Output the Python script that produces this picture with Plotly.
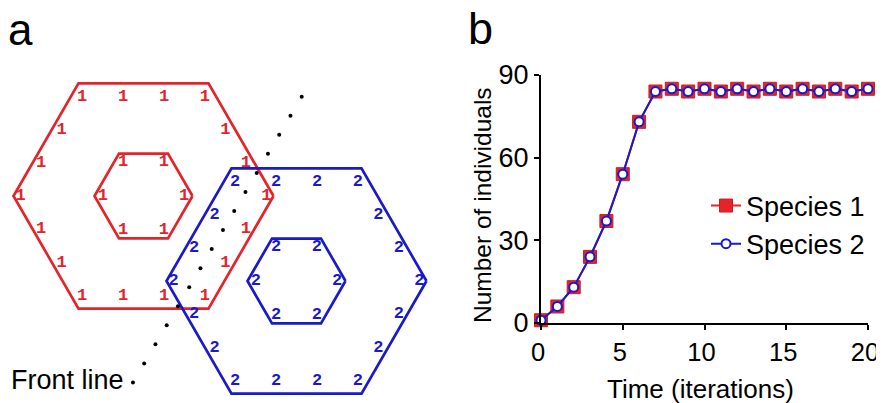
import numpy as np
import plotly.graph_objects as go

# ---------------- Panel b data ----------------
time_iter = list(range(21))
species1 = [1, 6, 13, 24, 37, 54, 73, 84, 85, 84, 85, 84, 85, 84, 85, 84, 85, 84, 85, 84, 85]
species2 = [1, 6, 13, 24, 37, 54, 73, 84, 85, 84, 85, 84, 85, 84, 85, 84, 85, 84, 85, 84, 85]
x_ticks = [0, 5, 10, 15, 20]
y_ticks = [0, 30, 60, 90]
series_names = ["Species 1", "Species 2"]
x_title = "Time (iterations)"
y_title = "Number of individuals"

# ---------------- Panel a data (diagram units) ----------------
hex_labels = ["1", "2"]
hex_center_x = [143.5, 296.5]
hex_center_y = [207.0, 122.0]
outer_radius = 130.0
inner_radius = 49.0
front_line_start = (301.7, 306.3)
front_line_step = (-11.25, -19.05)
front_line_count = 16

RED = "#e3242b"
BLUE = "#1a1ac8"
FONT = "Arial, Liberation Sans, sans-serif"

# page body has an 8px margin: figure starts at (8, 8) of the window
PAD = 8
WIN_W, WIN_H = 884, 403
W, H = WIN_W - PAD, WIN_H - PAD


def fx(px):
    return (px - PAD) / W


def fy(py):
    return (PAD + H - py) / H


fig = go.Figure()


def hex_vertices(cx, cy, r):
    ang = np.deg2rad(np.arange(0, 360, 60))
    return cx + r * np.cos(ang), cy + r * np.sin(ang)


def ring_points(cx, cy, r, per_edge):
    vx, vy = hex_vertices(cx, cy, r)
    px, py = [], []
    for i in range(6):
        j = (i + 1) % 6
        for k in range(per_edge):
            t = k / per_edge
            px.append(vx[i] + t * (vx[j] - vx[i]))
            py.append(vy[i] + t * (vy[j] - vy[i]))
    return np.array(px), np.array(py)


colors = [RED, BLUE]
for lab, cx, cy, col in zip(hex_labels, hex_center_x, hex_center_y, colors):
    for r, per_edge, kx, ky in [(outer_radius, 3, 0.945, 0.885), (inner_radius, 1, 0.83, 0.80)]:
        vx, vy = hex_vertices(cx, cy, r)
        fig.add_trace(go.Scatter(
            x=list(vx) + [vx[0]], y=list(vy) + [vy[0]], mode="lines",
            line=dict(color=col, width=2.7), xaxis="x2", yaxis="y2",
            showlegend=False, hoverinfo="skip"))
        px, py = ring_points(cx, cy, r, per_edge)
        fig.add_trace(go.Scatter(
            x=cx + kx * (px - cx), y=cy + ky * (py - cy), mode="text",
            text=[lab] * len(px),
            textfont=dict(family="Liberation Mono, Courier New, monospace",
                          size=17, color=col, weight="bold"),
            xaxis="x2", yaxis="y2", showlegend=False, hoverinfo="skip"))

# front line dots
idx = np.arange(front_line_count)
fig.add_trace(go.Scatter(
    x=front_line_start[0] + idx * front_line_step[0],
    y=front_line_start[1] + idx * front_line_step[1],
    mode="markers", marker=dict(color="black", size=4),
    xaxis="x2", yaxis="y2", showlegend=False, hoverinfo="skip"))

# ---------------- Panel b traces ----------------
fig.add_trace(go.Scatter(
    x=time_iter, y=species1, name=series_names[0], mode="lines+markers",
    line=dict(color=RED, width=2),
    marker=dict(symbol="square", size=13, color=RED, line=dict(color="#c81e24", width=1)),
    cliponaxis=False))
fig.add_trace(go.Scatter(
    x=time_iter, y=species2, name=series_names[1], mode="lines+markers",
    line=dict(color=BLUE, width=2),
    marker=dict(symbol="circle", size=9, color="white", line=dict(color=BLUE, width=2)),
    cliponaxis=False))

fig.update_layout(
    width=W, height=H,
    margin=dict(l=0, r=0, t=0, b=0, autoexpand=False),
    paper_bgcolor="white", plot_bgcolor="white",
    font=dict(family=FONT, color="black"),
    showlegend=True,
    legend=dict(x=fx(706), y=fy(225), xanchor="left", yanchor="middle",
                font=dict(size=27, family=FONT), bgcolor="rgba(0,0,0,0)",
                tracegroupgap=0, itemwidth=30),
    xaxis=dict(domain=[fx(541), fx(868)], range=[0, 20], tickvals=x_ticks,
               showline=True, linecolor="black", linewidth=2, ticks="outside",
               ticklen=5, tickwidth=2, tickcolor="black", showgrid=False,
               zeroline=False, tickfont=dict(size=25.5), automargin=False,
               ticklabeloverflow="allow", ticklabelshift=-3, anchor="y"),
    yaxis=dict(domain=[fy(323), fy(75)], range=[0, 90], tickvals=y_ticks,
               showline=True, linecolor="black", linewidth=2, ticks="outside",
               ticklen=5, tickwidth=2, tickcolor="black", showgrid=False,
               zeroline=False, tickfont=dict(size=27), automargin=False,
               anchor="x"),
    xaxis2=dict(domain=[0, fx(450)], range=[PAD, 450], visible=False, fixedrange=True,
                automargin=False),
    yaxis2=dict(domain=[0, 1], range=[WIN_H - PAD - H, WIN_H - PAD], visible=False,
                fixedrange=True, anchor="x2", automargin=False),
    annotations=[
        dict(text="a", x=fx(6), y=fy(30), xref="paper", yref="paper",
             xanchor="left", yanchor="middle", showarrow=False,
             font=dict(size=44, family=FONT)),
        dict(text="b", x=fx(466), y=fy(29), xref="paper", yref="paper",
             xanchor="left", yanchor="middle", showarrow=False,
             font=dict(size=45, family=FONT)),
        dict(text="Front line", x=fx(9), y=fy(380), xref="paper", yref="paper",
             xanchor="left", yanchor="middle", showarrow=False,
             font=dict(size=27, family=FONT)),
        dict(text=x_title, x=fx(700.5), y=fy(388.5), xref="paper", yref="paper",
             xanchor="center", yanchor="middle", showarrow=False,
             font=dict(size=26, family=FONT)),
        dict(text=y_title, x=fx(482), y=fy(205), xref="paper", yref="paper",
             xanchor="center", yanchor="middle", showarrow=False, textangle=-90,
             font=dict(size=24.5, family=FONT)),
    ],
)

fig.write_html("out.html")
